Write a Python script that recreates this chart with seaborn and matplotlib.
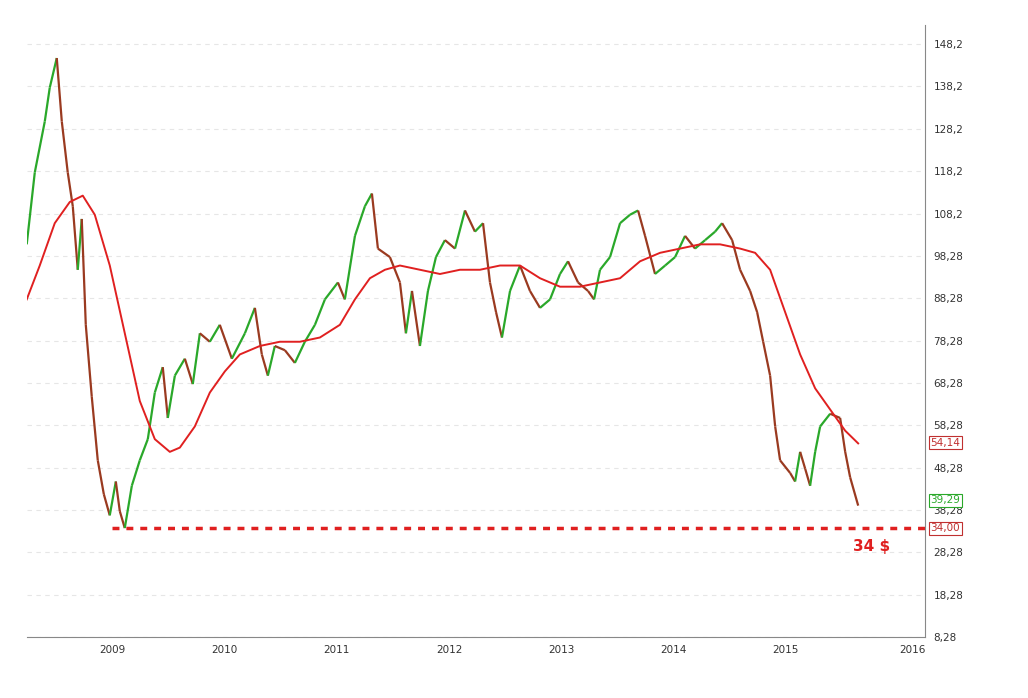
import numpy as np
import pandas as pd
import matplotlib
matplotlib.use("Agg")
import matplotlib.pyplot as plt
from matplotlib.collections import LineCollection
import seaborn as sns

price_t = [0.232,.304,.393,.4375,.5,.545,.598,.643,.6875,.723,.759,.8125,.866,.92,.973,1.027,1.0625,1.107,1.17,1.241,1.3125,1.375,1.446,1.491,1.554,1.643,1.714,1.777,1.866,1.955,2.0625,2.179,2.268,2.33,2.384,2.446,2.536,2.625,2.714,2.804,2.893,3.009,3.071,3.161,3.25,3.3125,3.366,3.473,3.5625,3.616,3.67,3.741,3.8125,3.884,3.964,4.054,4.143,4.232,4.304,4.366,4.42,4.473,4.545,4.634,4.723,4.8125,4.902,4.991,5.0625,5.152,5.241,5.295,5.348,5.4375,5.527,5.616,5.6875,5.75,5.839,5.929,6.018,6.107,6.196,6.286,6.375,6.4375,6.527,6.598,6.6875,6.75,6.804,6.866,6.911,6.955,7.045,7.089,7.134,7.179,7.223,7.268,7.3125,7.402,7.491,7.536,7.58,7.652]
price_v = [101,118,130,138,145,130,118,110,95,107,82,65,50,42,37,45,38,34,44,50,55,66,72,60,70,74,68,80,78,82,74,80,86,75,70,77,76,73,78,82,88,92,88,103,110,113,100,98,92,80,90,77,90,98,102,100,109,104,106,92,85,79,90,96,90,86,88,94,97,92,90,88,95,98,106,108,109,103,94,96,98,103,100,102,104,106,102,95,90,85,78,70,58,50,47,45,52,48,44,52,58,61,60,52,46,39.3]

ma_px = [27,40,55,70,83,95,110,125,140,155,170,180,195,210,225,240,260,280,300,320,340,355,370,385,400,420,440,460,480,500,520,540,560,580,600,620,640,660,680,700,720,740,755,770,785,800,815,830,845,858]
ma_v = [88,96,106,111,112.5,108,96,80,64,55,52,53,58,66,71,75,77,78,78,79,82,88,93,95,96,95,94,95,95,96,96,93,91,91,92,93,97,99,100,101,101,100,99,95,85,75,67,62,57,54]
ma_t = [(p - 1) / 112 for p in ma_px]

yticks = [8.28 + 10 * i for i in range(15)]
ytick_labels = [f"{v:.2f}".replace(".", ",")[:5] for v in yticks]
year_labels = ["2009", "2010", "2011", "2012", "2013", "2014", "2015", "2016"]

fig = plt.figure(figsize=(10.28, 6.98), dpi=100)
ax = fig.add_axes([0.026, 0.0874, 0.874, 0.8768])
base = 2008
tx = np.array(price_t) + base
pv = np.array(price_v)
segs = [[(tx[i], pv[i]), (tx[i + 1], pv[i + 1])] for i in range(len(tx) - 1)]
cols = ["#2aa82a" if pv[i + 1] >= pv[i] else "#9a3a20" for i in range(len(tx) - 1)]
ax.add_collection(LineCollection(segs, colors=cols, linewidths=1.6))

df = pd.DataFrame({"t": np.array(ma_t) + base, "v": ma_v})
sns.lineplot(data=df, x="t", y="v", ax=ax, color="#e02020", linewidth=1.4)

ax.axhline(34, xmin=(2008 + (112 - 1) / 112 - 2008.232) / 8.018, xmax=1, color="#e02020", ls=(0, (2, 2)), lw=2.5)
ax.text(2008 + 870 / 112, 28.6, "34 $", color="#e02020", fontsize=11, fontweight="bold", ha="center")

ax.set_xlim(2008.232, 2016.25)
ax.set_ylim(8.28, 152.8)
ax.set_xticks([2009, 2010, 2011, 2012, 2013, 2014, 2015, 2016.14])
ax.set_xticklabels(year_labels, fontsize=7.5)
ax.yaxis.tick_right()
ax.set_yticks(yticks)
ax.set_yticklabels(ytick_labels, fontsize=7.5)
ax.tick_params(length=0, pad=6, colors="#333333")
ax.set_xlabel(""); ax.set_ylabel("")
ax.grid(axis="y", color="#e6e6e6", ls=(0, (4, 4)), lw=0.8)
ax.grid(axis="x", visible=False)
for s in ["top", "left"]:
    ax.spines[s].set_visible(False)
ax.spines["right"].set_color("#888888")
ax.spines["bottom"].set_color("#888888")

for val, yy, c in [(54.14, 54.14, "#c03030"), (39.29, 40.6, "#2aa82a"), (34.00, 34.0, "#c03030")]:
    ax.text(1.006, yy, f"{val:.2f}".replace(".", ",")[:5], transform=ax.get_yaxis_transform(),
            color=c, fontsize=7.5, va="center", ha="left",
            bbox=dict(boxstyle="square,pad=0.15", fc="white", ec=c, lw=0.8))

fig.savefig("out.png", dpi=100)
